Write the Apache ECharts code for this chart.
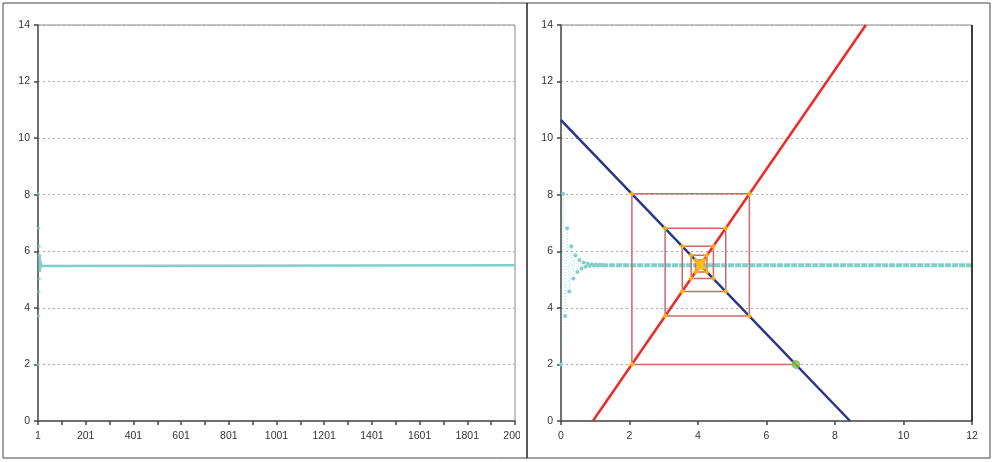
<!DOCTYPE html>
<html>
<head>
<meta charset="utf-8">
<script src="https://cdn.jsdelivr.net/npm/echarts@6/dist/echarts.min.js"></script>
<style>
  html, body { margin: 0; padding: 0; background: #fff; }
  #chart { width: 993px; height: 462px; }
</style>
</head>
<body>
<div id="chart"></div>
<script>
  // price path per period, then it stays flat
  const periods = [1, 2, 3, 4, 5, 6, 7, 8, 9, 10, 11, 12, 13, 14, 15, 16, 17, 18, 19, 20, 21]
  const prices = [2.00, 8.03, 3.71, 6.81, 4.58, 6.18, 5.04, 5.86, 5.27, 5.69, 5.39, 5.60, 5.45, 5.56, 5.48, 5.54, 5.50, 5.53, 5.50, 5.52, 5.51]
  const steadyPrice = 5.51
  const lastPeriod = 2001
  const rightLastPeriod = 201

  // demand (blue) and supply (red) lines, quantity / price end points
  const demandQ = [0, 8.44]
  const demandP = [10.64, 0]
  const supplyQ = [0.93, 8.9]
  const supplyP = [0, 14]

  // cobweb corners
  const cobQ = [6.86, 2.07, 2.07, 5.50, 5.50, 3.04, 3.04, 4.81, 4.81, 3.54, 3.54, 4.45, 4.45, 3.80, 3.80, 4.26, 4.26, 3.93, 3.93, 4.17, 4.17, 4.00, 4.00, 4.12, 4.12, 4.03, 4.03, 4.10, 4.10]
  const cobP = [2.00, 2.00, 8.03, 8.03, 3.71, 3.71, 6.81, 6.81, 4.58, 4.58, 6.18, 6.18, 5.04, 5.04, 5.86, 5.86, 5.27, 5.27, 5.69, 5.69, 5.39, 5.39, 5.60, 5.60, 5.45, 5.45, 5.56, 5.56, 5.48]

  const teal = '#7fd0c8'
  const font = 'Liberation Sans'

  const pairs = (xs, ys) => xs.map((x, i) => [x, ys[i]])

  // left chart: period - 1 on the axis so that ticks start at 0
  const leftEarly = periods.slice(0, 8).map((t, i) => [t - 1, prices[i]])
  const leftLine = periods.slice(7).map((t, i) => [t - 1, prices[i + 7]])
  leftLine.push([lastPeriod - 1, steadyPrice])

  const rightEarly = periods.map((t, i) => [t - 1, prices[i]])
  const rightTail = [[periods[periods.length - 1] - 1, steadyPrice], [rightLastPeriod - 1, steadyPrice]]

  const yAxisBase = (gridIndex) => ({
    type: 'value', gridIndex: gridIndex, min: 0, max: 14, interval: 2,
    axisLine: {show: true, lineStyle: {color: '#555', width: 1.5}},
    axisTick: {show: true, length: 4, lineStyle: {color: '#444', width: 1.5}},
    axisLabel: {color: '#333', fontSize: 10.5, fontFamily: font, margin: 8},
    splitLine: {show: true, lineStyle: {color: '#aaa', type: [2, 3], width: 1}}
  })

  const chart = echarts.init(document.getElementById('chart'))
  const option = {
    animation: false,
    backgroundColor: '#fff',
    grid: [
      {left: 38, right: 478, top: 25, bottom: 41, show: true, borderColor: '#888', borderWidth: 1},
      {left: 561, right: 21, top: 25, bottom: 41, show: true, borderColor: '#888', borderWidth: 1}
    ],
    xAxis: [
      {
        type: 'value', gridIndex: 0, min: 0, max: lastPeriod - 1, interval: 100,
        axisLine: {show: true, lineStyle: {color: '#555', width: 1.5}},
        axisTick: {show: true, length: 4, lineStyle: {color: '#444', width: 1.5}},
        axisLabel: {color: '#333', fontSize: 10.5, fontFamily: font, margin: 10,
          formatter: v => (v % 200 === 0 ? String(v + 1) : '')},
        splitLine: {show: false}
      },
      {
        type: 'value', gridIndex: 1, min: 0, max: 12, interval: 2,
        axisLine: {show: true, lineStyle: {color: '#555', width: 1.5}},
        axisTick: {show: true, length: 4, lineStyle: {color: '#444', width: 1.5}},
        axisLabel: {color: '#333', fontSize: 10.5, fontFamily: font, margin: 10},
        splitLine: {show: false}
      },
      {
        type: 'value', gridIndex: 1, min: 0, max: rightLastPeriod - 1, show: false
      }
    ],
    yAxis: [yAxisBase(0), yAxisBase(1)],
    series: [
      {
        type: 'scatter', xAxisIndex: 0, yAxisIndex: 0, data: leftEarly,
        symbolSize: 3, itemStyle: {color: teal}, z: 5
      },
      {
        type: 'line', xAxisIndex: 0, yAxisIndex: 0, data: leftLine,
        showSymbol: false, lineStyle: {color: teal, width: 2.5}, z: 5
      },
      {
        type: 'line', xAxisIndex: 2, yAxisIndex: 1, data: rightEarly,
        symbol: 'circle', symbolSize: 4, itemStyle: {color: teal},
        lineStyle: {color: teal, width: 1, type: [1, 2], opacity: 0.6}, z: 3
      },
      {
        type: 'line', xAxisIndex: 2, yAxisIndex: 1, data: rightTail,
        showSymbol: false, lineStyle: {color: teal, width: 4, type: [6, 1]}, z: 3
      },
      {
        type: 'line', xAxisIndex: 1, yAxisIndex: 1, data: pairs(demandQ, demandP),
        showSymbol: false, lineStyle: {color: '#27348b', width: 2.5}, z: 4
      },
      {
        type: 'line', xAxisIndex: 1, yAxisIndex: 1, data: pairs(supplyQ, supplyP),
        showSymbol: false, lineStyle: {color: '#ee2a24', width: 2.5}, z: 4
      },
      {
        type: 'line', xAxisIndex: 1, yAxisIndex: 1, data: pairs(cobQ, cobP),
        showSymbol: false, lineStyle: {color: '#c96a6a', width: 1.5}, z: 5
      },
      {
        type: 'scatter', xAxisIndex: 1, yAxisIndex: 1, data: pairs(cobQ.slice(1), cobP.slice(1)),
        symbol: 'diamond', symbolSize: 6, itemStyle: {color: '#ffc20e'}, z: 6
      },
      {
        type: 'scatter', xAxisIndex: 1, yAxisIndex: 1, data: [[cobQ[0], cobP[0]]],
        symbol: 'circle', symbolSize: 9, itemStyle: {color: '#7dc242'}, z: 7
      }
    ],
    graphic: [
      {type: 'rect', shape: {x: 3, y: 3, width: 987, height: 455}, style: {fill: null, stroke: '#444', lineWidth: 1}, silent: true},
      {type: 'rect', shape: {x: 520, y: 425, width: 6, height: 20}, style: {fill: '#fff'}, silent: true, z: 9},
      {type: 'line', shape: {x1: 527, y1: 3, x2: 527, y2: 458}, style: {stroke: '#222', lineWidth: 1.5}, silent: true, z: 10},
      {type: 'line', shape: {x1: 972, y1: 25, x2: 972, y2: 421}, style: {stroke: '#111', lineWidth: 1.5}, silent: true, z: 10}
    ]
  }
  chart.setOption(option)
  window.addEventListener('resize', () => chart.resize(), false)
</script>
</body>
</html>
